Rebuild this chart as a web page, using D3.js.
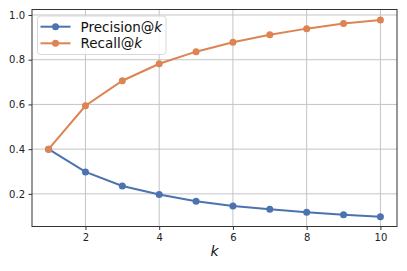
<!DOCTYPE html>
<html>
<head>
<meta charset="utf-8">
<script src="https://cdn.jsdelivr.net/npm/d3@7"></script>
<style>
  body { margin: 0; background: #fff; }
  svg { font-family: "DejaVu Sans", sans-serif; }
</style>
</head>
<body>
<div id="chart-area"></div>
<script>
// data
var ks = [1, 2, 3, 4, 5, 6, 7, 8, 9, 10];
var precision = [0.400, 0.298, 0.235, 0.197, 0.167, 0.146, 0.131, 0.118, 0.107, 0.098];
var recall = [0.400, 0.594, 0.706, 0.782, 0.836, 0.878, 0.912, 0.939, 0.962, 0.978];
var xTicks = [2, 4, 6, 8, 10];
var yTicks = [0.2, 0.4, 0.6, 0.8, 1.0];

var margin = { left: 32, right: 10, top: 9.5, bottom: 44.5 },
    width = 407 - margin.left - margin.right,
    height = 271 - margin.top - margin.bottom;

var svg = d3.select("#chart-area")
    .append("svg")
    .attr("width", 407)
    .attr("height", 271);

var g = svg.append("g")
    .attr("transform", "translate(" + margin.left + "," + margin.top + ")");

// scales
var x = d3.scaleLinear().domain([0.55, 10.45]).range([0, width]);
var y = d3.scaleLinear().domain([0.054, 1.0246]).range([height, 0]);

// grid
g.selectAll(".vgrid").data(xTicks).enter().append("line")
    .attr("x1", function(d){ return x(d); })
    .attr("x2", function(d){ return x(d); })
    .attr("y1", 0).attr("y2", height)
    .attr("stroke", "#c4c4c4").attr("stroke-width", 1);
g.selectAll(".hgrid").data(yTicks).enter().append("line")
    .attr("y1", function(d){ return y(d); })
    .attr("y2", function(d){ return y(d); })
    .attr("x1", 0).attr("x2", width)
    .attr("stroke", "#c4c4c4").attr("stroke-width", 1);

// axes
var xAxis = g.append("g")
    .attr("transform", "translate(0," + height + ")")
    .call(d3.axisBottom(x).tickValues(xTicks).tickSize(3.5).tickPadding(3.5).tickFormat(d3.format("d")));
var yAxis = g.append("g")
    .call(d3.axisLeft(y).tickValues(yTicks).tickSize(3.5).tickPadding(3.5).tickFormat(d3.format(".1f")));

[xAxis, yAxis].forEach(function(a){
    a.select(".domain").remove();
    a.selectAll("line").attr("stroke", "#333");
    a.selectAll("text").attr("font-size", "10px").attr("fill", "#222")
        .attr("font-family", "DejaVu Sans, sans-serif");
});

// frame
g.append("rect")
    .attr("width", width).attr("height", height)
    .attr("fill", "none").attr("stroke", "#333").attr("stroke-width", 1);

// lines
var series = [
    { name: "Precision@", values: precision, color: "#4c72b0" },
    { name: "Recall@", values: recall, color: "#dd8452" }
];

var line = d3.line()
    .x(function(d, i){ return x(ks[i]); })
    .y(function(d){ return y(d); });

series.forEach(function(s){
    g.append("path")
        .attr("d", line(s.values))
        .attr("fill", "none")
        .attr("stroke", s.color)
        .attr("stroke-width", 2);
    g.selectAll(null).data(s.values).enter().append("circle")
        .attr("cx", function(d, i){ return x(ks[i]); })
        .attr("cy", function(d){ return y(d); })
        .attr("r", 3.5)
        .attr("fill", s.color);
});

// x label
svg.append("text")
    .attr("x", margin.left + width / 2)
    .attr("y", 256)
    .attr("text-anchor", "middle")
    .attr("font-size", "14px")
    .attr("font-style", "italic")
    .attr("fill", "#111")
    .text("k");

// legend
var lg = svg.append("g").attr("transform", "translate(37.5,16)");
lg.append("rect")
    .attr("width", 128.5).attr("height", 38.5)
    .attr("rx", 3)
    .attr("fill", "#fff").attr("fill-opacity", 0.85)
    .attr("stroke", "#d8d8d8");
series.forEach(function(s, i){
    var yy = 10.7 + i * 16.6;
    lg.append("line")
        .attr("x1", 3).attr("x2", 33)
        .attr("y1", yy).attr("y2", yy)
        .attr("stroke", s.color).attr("stroke-width", 2);
    lg.append("circle")
        .attr("cx", 18).attr("cy", yy).attr("r", 3.5)
        .attr("fill", s.color);
    var t = lg.append("text")
        .attr("x", 43).attr("y", yy + 4.8)
        .attr("font-size", "13.5px")
        .attr("fill", "#111")
        .text(s.name);
    t.append("tspan").attr("font-style", "italic").text("k");
});
</script>
</body>
</html>
